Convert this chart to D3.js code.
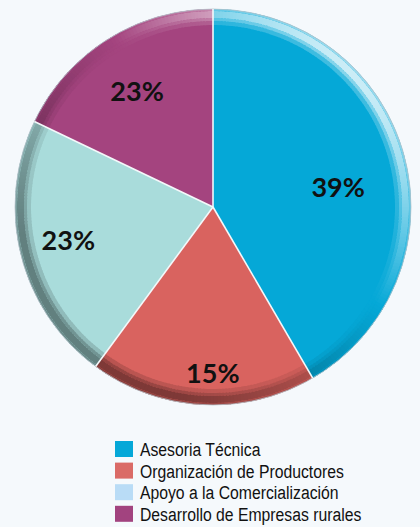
<!DOCTYPE html>
<html>
<head>
<meta charset="utf-8">
<script src="https://cdn.jsdelivr.net/npm/d3@7"></script>
<style>
  html, body { margin: 0; padding: 0; background: #f5f9fc; }
  svg { display: block; }
</style>
</head>
<body>
<svg id="chart" width="420" height="527"></svg>
<script>
// data
var categories = ["Asesoria Técnica", "Organización de Productores", "Apoyo a la Comercialización", "Desarrollo de Empresas rurales"];
var shares = [41.6, 18.5, 22.0, 17.9];   // slice sizes as drawn
var labels = ["39%", "15%", "23%", "23%"];
var sliceColors = ["#05a8d7", "#d9635f", "#a9dcdb", "#a4447f"];
var legendColors = ["#05a8d8", "#da6b67", "#b9dcf6", "#a2437f"];

var svg = d3.select("#chart");
var cx = 213, cy = 207, r = 198;
// label placement: fraction of radius, angle nudge in degrees
var labelRadius = [0.64, 0.84, 0.75, 0.70];
var labelTurn = [6, -3, 1, -1];

var pie = d3.pie().sort(null).value(function(d) { return d; });
var arcs = pie(shares);

var g = svg.append("g").attr("transform", "translate(" + cx + "," + cy + ")");

// flat slices
g.selectAll("path.slice")
    .data(arcs)
    .enter()
    .append("path")
    .attr("class", "slice")
    .attr("fill", function(d, i) { return sliceColors[i]; })
    .attr("d", d3.arc().innerRadius(0).outerRadius(r));

// bevelled rim, light from top right, dark at bottom left
function shade(base, a, k) {
    var f = Math.cos(a - Math.PI / 4) - 0.25;
    if (f > 0) return d3.interpolateRgb(base, "#ffffff")(Math.min(0.82, 1.05 * f * k));
    return d3.interpolateRgb(base, "#000000")(Math.min(0.42, 0.4 * -f * k));
}

var bands = [[182, 186, 0.3], [186, 189, 0.65], [189, 196, 1.0], [196, r, 0.75]];
var step = Math.PI / 180;
var rim = g.append("g");
arcs.forEach(function(d, i) {
    var pieces = d3.range(d.startAngle, d.endAngle, step);
    bands.forEach(function(b) {
        var band = d3.arc().innerRadius(b[0]).outerRadius(b[1]);
        rim.selectAll(null)
            .data(pieces)
            .enter()
            .append("path")
            .attr("fill", function(a) { return shade(sliceColors[i], a + step / 2, b[2]); })
            .attr("d", function(a) {
                return band({startAngle: a, endAngle: Math.min(a + step * 1.3, d.endAngle)});
            });
    });
});

// outline
g.append("circle")
    .attr("r", r)
    .attr("fill", "none")
    .attr("stroke", "#b4c3ca")
    .attr("stroke-width", 0.8);

// white separators
g.selectAll("line.sep")
    .data(arcs)
    .enter()
    .append("line")
    .attr("class", "sep")
    .attr("x1", 0).attr("y1", 0)
    .attr("x2", function(d) { return d3.pointRadial(d.startAngle, r)[0]; })
    .attr("y2", function(d) { return d3.pointRadial(d.startAngle, r)[1]; })
    .attr("stroke", "#f4f8fa")
    .attr("stroke-width", 1.6);

// percentage labels
g.selectAll("text.pct")
    .data(arcs)
    .enter()
    .append("text")
    .attr("class", "pct")
    .attr("transform", function(d, i) {
        var a = (d.startAngle + d.endAngle) / 2 + labelTurn[i] * Math.PI / 180;
        var p = d3.pointRadial(a, r * labelRadius[i]);
        return "translate(" + p[0] + "," + p[1] + ")";
    })
    .attr("text-anchor", "middle")
    .attr("dy", "0.36em")
    .attr("font-family", "Lato, 'Open Sans', sans-serif")
    .attr("font-weight", "bold")
    .attr("font-size", "27px")
    .attr("fill", "#111")
    .text(function(d, i) { return labels[i]; });

// legend
var legend = svg.append("g")
    .attr("transform", "translate(115, 441)");

var rows = legend.selectAll("g")
    .data(categories)
    .enter()
    .append("g")
    .attr("transform", function(d, i) { return "translate(0," + (i * 21.6) + ")"; });

rows.append("rect")
    .attr("width", 18)
    .attr("height", 16)
    .attr("fill", function(d, i) { return legendColors[i]; });

rows.append("text")
    .attr("transform", "translate(25,15) scale(0.895,1)")
    .attr("font-family", "'Liberation Sans', Arial, sans-serif")
    .attr("font-size", "17.6px")
    .attr("fill", "#111")
    .text(function(d) { return d; });
</script>
</body>
</html>
